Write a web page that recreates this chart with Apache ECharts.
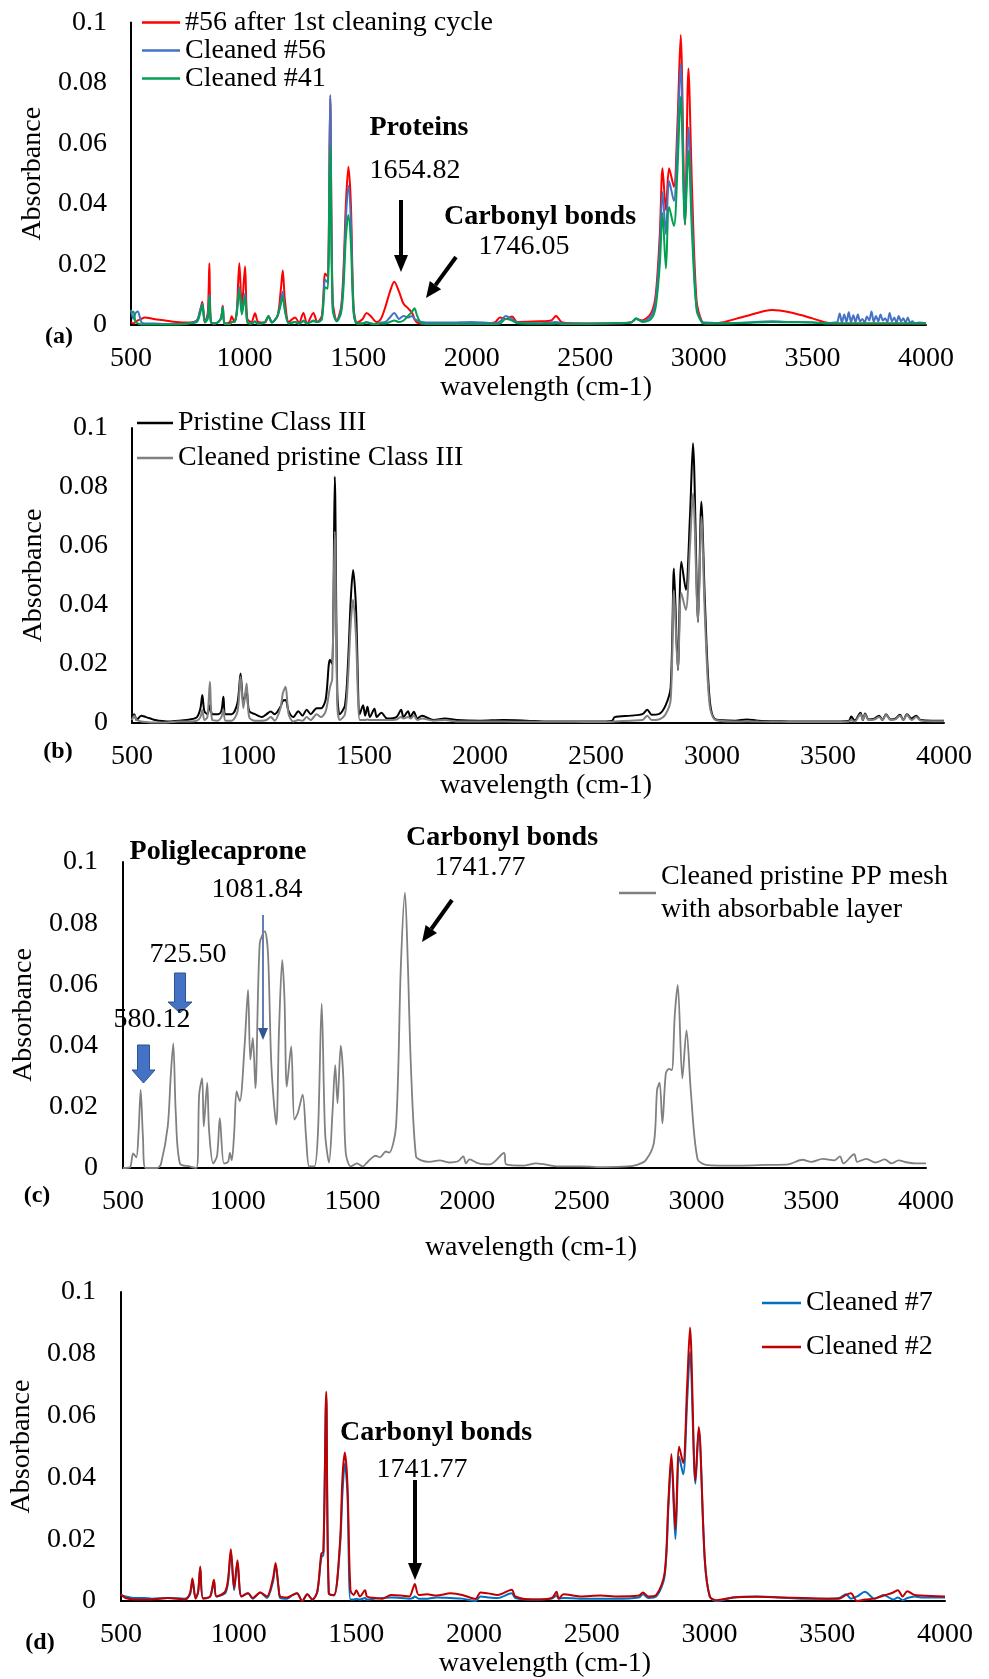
<!DOCTYPE html>
<html>
<head>
<meta charset="utf-8">
<title>FTIR spectra</title>
<script src="https://cdn.jsdelivr.net/npm/echarts@6/dist/echarts.min.js"></script>
<style>
  html, body { margin: 0; padding: 0; background: #fff; }
  #chart { width: 989px; height: 1679px; }
</style>
</head>
<body>
<div id="chart"></div>
<script>
// axis ranges / titles
const xMin = 500, xMax = 4000, xStep = 500;
const yMin = 0, yMax = 0.1, yStep = 0.02;
const xTitle = 'wavelength (cm-1)';
const yTitle = 'Absorbance';

// ---- (a) ----
const waveA = [
  500, 510, 520, 530, 545, 560, 600, 650, 700, 750,
  790, 805, 814, 825, 838, 845, 852, 870, 895, 904,
  912, 935, 943, 955, 965, 977, 988, 1002, 1012, 1030,
  1046, 1060, 1090, 1105, 1120, 1145, 1160, 1168, 1178, 1195,
  1222, 1240, 1259, 1275, 1303, 1320, 1340, 1355, 1366, 1377,
  1388, 1406, 1425, 1436, 1446, 1457, 1468, 1480, 1495, 1520,
  1537, 1555, 1581, 1600, 1620, 1640, 1659, 1680, 1700, 1720,
  1738, 1748, 1760, 1780, 1820, 1900, 2000, 2100, 2125, 2150,
  2178, 2200, 2300, 2350, 2371, 2400, 2500, 2600, 2700, 2724,
  2750, 2790, 2810, 2828, 2840, 2855, 2869, 2890, 2905, 2920,
  2939, 2954, 2970, 2990, 3014, 3030, 3100, 3200, 3324, 3400,
  3500, 3560, 3600,
  3610, 3620, 3630, 3640, 3650, 3660, 3670, 3680, 3690, 3700,
  3710, 3720, 3730, 3740, 3750, 3760, 3770, 3780, 3790, 3800,
  3810, 3820, 3830, 3840, 3850, 3860, 3870, 3880, 3890, 3900,
  3910, 3920, 3930, 3940, 3950,
  3970, 4000
];
const after1stCycle56 = [
  0.001, 0.0005, 0.001, 0.0015, 0.002, 0.0025, 0.002, 0.0015, 0.001, 0.0008,
  0.0015, 0.005, 0.0077, 0.001, 0.004, 0.0204, 0.001, 0.0005, 0.002, 0.0064,
  0.0005, 0.001, 0.0029, 0.001, 0.004, 0.0204, 0.006, 0.0193, 0.002, 0.001,
  0.0039, 0.001, 0.0008, 0.003, 0.001, 0.003, 0.012, 0.018, 0.008, 0.001,
  0.0025, 0.0008, 0.004, 0.0005, 0.004, 0.001, 0.003, 0.017, 0.016, 0.075,
  0.008, 0.0015, 0.006, 0.019, 0.040, 0.0523, 0.040, 0.006, 0.0008, 0.002,
  0.004, 0.003, 0.001, 0.002, 0.006, 0.011, 0.0143, 0.011, 0.007, 0.0055,
  0.004, 0.002, 0.0008, 0.0005, 0.0005, 0.0005, 0.0003, 0.0008, 0.0025, 0.002,
  0.0028, 0.001, 0.0012, 0.0015, 0.003, 0.0008, 0.0005, 0.0005, 0.0008, 0.002,
  0.0015, 0.004, 0.010, 0.030, 0.0518, 0.038, 0.0518, 0.0457, 0.065, 0.0959,
  0.0332, 0.0848, 0.045, 0.008, 0.001, 0.0005, 0.0008, 0.0028, 0.0050, 0.0042,
  0.0022, 0.0008, 0.0005,
  0.0005, 0.0005, 0.0005, 0.0005, 0.0005, 0.0005, 0.0005, 0.0005, 0.0005, 0.0005,
  0.0005, 0.0005, 0.0005, 0.0005, 0.0005, 0.0005, 0.0005, 0.0005, 0.0005, 0.0005,
  0.0005, 0.0005, 0.0005, 0.0005, 0.0005, 0.0005, 0.0005, 0.0005, 0.0005, 0.0005,
  0.0005, 0.0005, 0.0005, 0.0005, 0.0005,
  0.0005, 0.0005
];
const cleaned56 = [
  0.005, 0.002, 0.004, 0.0045, 0.001, 0.0005, 0.0005, 0.0003, 0.0003, 0.0005,
  0.0015, 0.005, 0.007, 0.001, 0.003, 0.010, 0.001, 0.0005, 0.002, 0.006,
  0.0005, 0.0003, 0.001, 0.001, 0.004, 0.0126, 0.004, 0.0105, 0.001, 0.0005,
  0.0012, 0.0004, 0.001, 0.0028, 0.0008, 0.003, 0.008, 0.011, 0.005, 0.0005,
  0.001, 0.0005, 0.0015, 0.0005, 0.0015, 0.001, 0.002, 0.015, 0.014, 0.076,
  0.006, 0.0012, 0.005, 0.016, 0.035, 0.046, 0.034, 0.005, 0.0005, 0.0005,
  0.001, 0.0005, 0.0003, 0.0008, 0.001, 0.0025, 0.004, 0.002, 0.003, 0.0025,
  0.003, 0.002, 0.0015, 0.001, 0.0008, 0.0008, 0.001, 0.0006, 0.0012, 0.003,
  0.002, 0.0008, 0.0006, 0.0008, 0.001, 0.0006, 0.0005, 0.0005, 0.0008, 0.002,
  0.0012, 0.003, 0.008, 0.026, 0.044, 0.030, 0.0476, 0.041, 0.060, 0.0865,
  0.034, 0.0653, 0.035, 0.006, 0.001, 0.0008, 0.0006, 0.0008, 0.0012, 0.001,
  0.0009, 0.0006, 0.0008,
  0.001, 0.0038, 0.0008, 0.0035, 0.001, 0.0042, 0.0009, 0.0032, 0.001, 0.0035,
  0.0012, 0.002, 0.0008, 0.0028, 0.0015, 0.0045, 0.001, 0.003, 0.0012, 0.0035,
  0.0015, 0.0022, 0.001, 0.004, 0.0012, 0.0025, 0.0008, 0.003, 0.0012, 0.0022,
  0.0008, 0.0025, 0.0008, 0.0012, 0.0006,
  0.0008, 0.0006
];
const cleaned41 = [
  0.004, 0.0045, 0.001, 0.0005, 0.0002, 0.0002, 0.0002, 0.0002, 0.0002, 0.0005,
  0.001, 0.004, 0.0066, 0.0008, 0.002, 0.0094, 0.001, 0.0005, 0.002, 0.0056,
  0.0005, 0.0003, 0.001, 0.001, 0.0035, 0.0116, 0.0035, 0.0094, 0.001, 0.0005,
  0.001, 0.0004, 0.001, 0.003, 0.0008, 0.003, 0.007, 0.0094, 0.0045, 0.0005,
  0.001, 0.0005, 0.0012, 0.0005, 0.0012, 0.001, 0.002, 0.0125, 0.012, 0.059,
  0.005, 0.0012, 0.004, 0.013, 0.029, 0.0364, 0.027, 0.004, 0.0005, 0.0005,
  0.0008, 0.0005, 0.0003, 0.0005, 0.0005, 0.001, 0.0015, 0.001, 0.0015, 0.003,
  0.0045, 0.0055, 0.003, 0.0005, 0.0003, 0.0003, 0.0003, 0.0003, 0.0005, 0.002,
  0.0015, 0.0006, 0.0004, 0.0004, 0.0005, 0.0003, 0.0003, 0.0006, 0.0008, 0.0022,
  0.001, 0.002, 0.006, 0.020, 0.037, 0.0187, 0.039, 0.0327, 0.050, 0.0755,
  0.0332, 0.0576, 0.030, 0.005, 0.0008, 0.0005, 0.0005, 0.0007, 0.001, 0.0009,
  0.0008, 0.0005, 0.0005,
  0.0005, 0.0005, 0.0005, 0.0005, 0.0005, 0.0005, 0.0005, 0.0005, 0.0005, 0.0005,
  0.0005, 0.0005, 0.0005, 0.0005, 0.0005, 0.0005, 0.0005, 0.0005, 0.0005, 0.0005,
  0.0005, 0.0005, 0.0005, 0.0005, 0.0005, 0.0005, 0.0005, 0.0005, 0.0005, 0.0005,
  0.0005, 0.0005, 0.0005, 0.0005, 0.0005,
  0.0005, 0.0005
];

// ---- (b) ----
const waveB = [
  500, 510, 520, 540, 560, 580, 600, 650, 700, 750,
  780, 795, 803, 812, 825, 836, 846, 870, 885, 894,
  903, 930, 955, 968, 980, 994, 1005, 1030, 1060, 1080,
  1098, 1115, 1140, 1150, 1162, 1175, 1195, 1217, 1235, 1253,
  1270, 1296, 1315, 1335, 1353, 1363, 1374, 1385, 1396, 1418,
  1431, 1443, 1453, 1465, 1482, 1496, 1505, 1515, 1525, 1545,
  1555, 1575, 1600, 1640, 1660, 1670, 1690, 1700, 1715, 1730,
  1750, 1800, 1850, 1900, 2000, 2100, 2200, 2300, 2400, 2500,
  2570, 2580, 2650, 2700, 2721, 2740, 2770, 2800, 2822, 2836,
  2853, 2868, 2887, 2905, 2918, 2940, 2954, 2970, 2990, 3016,
  3100, 3150, 3200, 3300, 3400, 3500, 3590, 3600, 3615, 3640,
  3650, 3660, 3675, 3700, 3720, 3735, 3750, 3770, 3790, 3810,
  3825, 3840, 3860, 3880, 3900, 3950, 4000
];
const pristineClassIII = [
  0.002, 0.003, 0.001, 0.0025, 0.002, 0.0015, 0.001, 0.0005, 0.0008, 0.0012,
  0.002, 0.005, 0.0095, 0.004, 0.003, 0.006, 0.003, 0.003, 0.004, 0.0089,
  0.003, 0.003, 0.007, 0.0168, 0.007, 0.011, 0.004, 0.003, 0.002, 0.003,
  0.0039, 0.003, 0.0055, 0.0075, 0.0078, 0.004, 0.002, 0.004, 0.0025, 0.0045,
  0.003, 0.005, 0.005, 0.008, 0.0214, 0.020, 0.0835, 0.010, 0.003, 0.006,
  0.0202, 0.042, 0.0519, 0.040, 0.003, 0.006, 0.0025, 0.0055, 0.002, 0.0048,
  0.002, 0.0035, 0.0015, 0.002, 0.0045, 0.002, 0.004, 0.002, 0.0038, 0.0015,
  0.0025, 0.001, 0.0015, 0.001, 0.0008, 0.001, 0.0008, 0.0005, 0.0005, 0.0005,
  0.0008, 0.002, 0.0025, 0.003, 0.0045, 0.0028, 0.003, 0.006, 0.0123, 0.0524,
  0.018, 0.0547, 0.0452, 0.070, 0.0948, 0.0343, 0.075, 0.040, 0.008, 0.0012,
  0.0008, 0.0012, 0.0008, 0.0006, 0.0005, 0.0005, 0.0008, 0.0022, 0.0008, 0.0035,
  0.001, 0.0032, 0.0012, 0.0015, 0.0025, 0.001, 0.003, 0.0012, 0.0015, 0.0028,
  0.001, 0.003, 0.0015, 0.0025, 0.001, 0.0008, 0.0008
];
const cleanedPristineClassIII = [
  0.001, 0.0025, 0.001, 0.0005, 0.0003, 0.0002, 0.0002, 0.0002, 0.0005, 0.0005,
  0.0008, 0.002, 0.0044, 0.001, 0.002, 0.014, 0.001, 0.0008, 0.002, 0.0044,
  0.0008, 0.0008, 0.004, 0.0157, 0.005, 0.0134, 0.002, 0.0008, 0.0008, 0.001,
  0.002, 0.0008, 0.005, 0.010, 0.0123, 0.003, 0.0005, 0.001, 0.0008, 0.002,
  0.001, 0.003, 0.002, 0.004, 0.012, 0.015, 0.0649, 0.006, 0.001, 0.003,
  0.015, 0.034, 0.0418, 0.030, 0.001, 0.001, 0.001, 0.0012, 0.001, 0.001,
  0.001, 0.001, 0.001, 0.0012, 0.002, 0.0015, 0.002, 0.0015, 0.0025, 0.001,
  0.0015, 0.0008, 0.001, 0.0005, 0.0005, 0.0005, 0.0004, 0.0004, 0.0004, 0.0003,
  0.0004, 0.0005, 0.0008, 0.001, 0.0025, 0.001, 0.0012, 0.003, 0.008, 0.045,
  0.018, 0.044, 0.0383, 0.060, 0.0779, 0.0343, 0.070, 0.035, 0.006, 0.001,
  0.0005, 0.0006, 0.0005, 0.0004, 0.0003, 0.0003, 0.0005, 0.001, 0.0005, 0.003,
  0.001, 0.003, 0.001, 0.0012, 0.002, 0.001, 0.0028, 0.001, 0.0012, 0.0025,
  0.001, 0.0028, 0.001, 0.002, 0.0008, 0.0006, 0.0006
];

// ---- (c) ----
const waveC = [
  500, 530, 544, 558, 568, 577, 587, 598, 650, 666,
  695, 708, 719, 730, 748, 790, 820, 832, 845, 852,
  867, 875, 893, 910, 922, 940, 958, 966, 974, 985,
  995, 1009, 1030, 1045, 1055, 1066, 1077, 1096, 1118, 1132,
  1147, 1168, 1180, 1194, 1204, 1214, 1233, 1247, 1262, 1283,
  1298, 1312, 1334, 1350, 1366, 1381, 1398, 1413, 1425, 1435,
  1449, 1460, 1471, 1493, 1520, 1545, 1560, 1580, 1600, 1620,
  1646, 1660, 1690, 1711, 1729, 1741, 1755, 1777, 1800, 1835,
  1880, 1920, 1960, 1983, 1995, 2010, 2050, 2100, 2161, 2170,
  2250, 2300, 2400, 2500, 2600, 2700, 2740, 2778, 2814, 2828,
  2839, 2851, 2866, 2880, 2892, 2905, 2918, 2938, 2956, 2975,
  3004, 3041, 3100, 3200, 3300, 3400, 3462, 3500, 3550, 3600,
  3625, 3640, 3687, 3700, 3740, 3780, 3820, 3850, 3880, 3920,
  3960, 4000
];
const cleanedPPMesh = [
  0, 0.0002, 0.0048, 0.0035, 0.012, 0.0255, 0.010, 0, 0, 0.0015,
  0.0136, 0.030, 0.0407, 0.018, 0.0015, 0.0005, 0, 0.024, 0.0294, 0.0136,
  0.0278, 0.0125, 0.0015, 0.004, 0.0163, 0.0015, 0.002, 0.0049, 0.0025, 0.012,
  0.025, 0.0218, 0.040, 0.0582, 0.0354, 0.0425, 0.0261, 0.0734, 0.0773, 0.070,
  0.0331, 0.0142, 0.045, 0.068, 0.055, 0.0266, 0.0397, 0.0158, 0.018, 0.024,
  0.010, 0.0005, 0.0005, 0.012, 0.0537, 0.0114, 0.0018, 0.018, 0.0336, 0.0212,
  0.040, 0.030, 0.0049, 0.0005, 0.0015, 0.0005, 0.0015, 0.003, 0.004, 0.0035,
  0.0054, 0.005, 0.0136, 0.0659, 0.090, 0.068, 0.033, 0.0038, 0.0025, 0.002,
  0.0025, 0.0018, 0.0022, 0.0038, 0.0015, 0.0028, 0.0015, 0.0012, 0.0049, 0.0012,
  0.0008, 0.0015, 0.0005, 0.0005, 0.0003, 0.0005, 0.001, 0.0025, 0.0082, 0.0256,
  0.0279, 0.0146, 0.0309, 0.0324, 0.032, 0.050, 0.0598, 0.0293, 0.045, 0.025,
  0.003, 0.001, 0.0008, 0.0008, 0.001, 0.0012, 0.0027, 0.002, 0.003, 0.0025,
  0.0038, 0.0015, 0.0045, 0.002, 0.003, 0.0018, 0.0028, 0.0015, 0.0025, 0.0018,
  0.0015, 0.0015
];

// ---- (d) ----
const waveD = [
  500, 520, 560, 600, 631, 700, 772, 793, 804, 817,
  828, 837, 849, 879, 895, 906, 942, 955, 967, 981,
  995, 1012, 1040, 1060, 1092, 1120, 1145, 1157, 1170, 1177,
  1206, 1230, 1248, 1270, 1292, 1313, 1334, 1351, 1360, 1372,
  1383, 1405, 1430, 1441, 1451, 1462, 1475, 1489, 1500, 1515,
  1537, 1545, 1580, 1612, 1647, 1690, 1725, 1740, 1748, 1765,
  1801, 1840, 1900, 1950, 2006, 2027, 2060, 2100, 2160, 2175,
  2250, 2330, 2350, 2360, 2380, 2450, 2537, 2600, 2700, 2717,
  2740, 2774, 2809, 2825, 2838, 2855, 2871, 2888, 2905, 2917,
  2940, 2954, 2980, 3001, 3030, 3100, 3200, 3300, 3400, 3500,
  3550, 3580, 3600, 3627, 3660, 3700, 3740, 3780, 3800, 3820,
  3840, 3870, 3900, 4000
];
const cleaned7 = [
  0.002, 0.0015, 0.001, 0.001, 0.0008, 0.001, 0.0008, 0.002, 0.0065, 0.001,
  0.003, 0.0105, 0.001, 0.0015, 0.0065, 0.0015, 0.0025, 0.006, 0.0158, 0.0035,
  0.0125, 0.0015, 0.0025, 0.0008, 0.0028, 0.001, 0.006, 0.0115, 0.004, 0.001,
  0.0008, 0.002, 0.0025, 0, 0.0022, 0.0005, 0.003, 0.014, 0.015, 0.066,
  0.0025, 0.0018, 0.017, 0.035, 0.0445, 0.035, 0.0005, 0.0005, 0.0008, 0.0005,
  0.001, 0.0005, 0.0008, 0.001, 0.0012, 0.001, 0.0008, 0.001, 0.0015, 0.0008,
  0.0008, 0.0012, 0.001, 0.0008, 0, 0.0015, 0.0012, 0.001, 0.0025, 0.001,
  0.0005, 0.0008, 0.0018, 0.0008, 0.001, 0.0008, 0.0008, 0.0008, 0.0012, 0.0022,
  0.001, 0.0015, 0.008, 0.030, 0.046, 0.0201, 0.0467, 0.041, 0.065, 0.0806,
  0.038, 0.0555, 0.013, 0.0015, 0, 0.0012, 0.0015, 0.0012, 0.0008, 0.0008,
  0.001, 0.0022, 0.0008, 0.0015, 0.003, 0.0008, 0.002, 0.0005, 0.0012, 0.0003,
  0.001, 0.0015, 0.0012, 0.0012
];
const cleaned2 = [
  0.0021, 0.001, 0.0005, 0.0005, 0.0005, 0.001, 0.0005, 0.0025, 0.0073, 0.0008,
  0.003, 0.0112, 0.0008, 0.0015, 0.0069, 0.0015, 0.003, 0.007, 0.0168, 0.0042,
  0.0132, 0.0015, 0.0025, 0.001, 0.0028, 0.0015, 0.007, 0.0123, 0.004, 0.0015,
  0.0012, 0.002, 0.0025, 0, 0.0022, 0.0005, 0.003, 0.0153, 0.016, 0.0677,
  0.0025, 0.002, 0.0184, 0.040, 0.0481, 0.038, 0.0035, 0.002, 0.0035, 0.0015,
  0.0035, 0.0015, 0.001, 0.0008, 0.002, 0.0018, 0.0015, 0.004, 0.0055, 0.002,
  0.0022, 0.0018, 0.0025, 0.002, 0.0007, 0.0028, 0.0025, 0.002, 0.0037, 0.0015,
  0.0005, 0.001, 0.003, 0.0008, 0.0022, 0.0015, 0.0018, 0.0015, 0.0018, 0.0028,
  0.0015, 0.002, 0.009, 0.032, 0.0476, 0.0232, 0.0499, 0.0447, 0.070, 0.0885,
  0.0389, 0.0563, 0.0133, 0.0015, 0.0003, 0.0012, 0.0014, 0.0012, 0.001, 0.0008,
  0.0008, 0.002, 0.0025, 0, 0.0005, 0.0008, 0.0018, 0.0028, 0.0035, 0.0015,
  0.0032, 0.002, 0.0018, 0.0015
];

const FONT = "'Liberation Serif', 'Times New Roman', serif";
const FS = 28;
const chart = echarts.init(document.getElementById('chart'), null, { renderer: 'canvas' });

const pairs = (xs, ys) => xs.map((x, i) => [x, ys[i]]);

function xAxisFor(gridIndex, nameGap, namePad) {
  return {
    type: 'value', gridIndex: gridIndex,
    min: xMin, max: xMax, interval: xStep,
    name: xTitle, nameLocation: 'middle', nameGap: nameGap,
    nameTextStyle: { fontSize: FS, color: '#000', padding: [0, 0, 0, namePad] },
    axisLine: { onZero: false, lineStyle: { color: '#000', width: 2 } },
    axisTick: { show: false },
    splitLine: { show: false },
    axisLabel: { fontSize: FS, color: '#000', margin: 20, showMinLabel: true, showMaxLabel: true,
      formatter: v => String(v) }
  };
}

function yAxisFor(gridIndex, nameGap, labelMargin) {
  return {
    type: 'value', gridIndex: gridIndex,
    min: yMin, max: yMax, interval: yStep,
    name: yTitle, nameLocation: 'middle', nameRotate: 90, nameGap: nameGap,
    nameTextStyle: { fontSize: FS, color: '#000' },
    axisLine: { show: true, lineStyle: { color: '#000', width: 2 } },
    axisTick: { show: false },
    splitLine: { show: false },
    axisLabel: { fontSize: FS, color: '#000', margin: labelMargin,
      formatter: v => v === 0 ? '0' : String(+v.toFixed(2)) }
  };
}

function line(name, xi, data, color, width) {
  return {
    type: 'line', name: name, xAxisIndex: xi, yAxisIndex: xi,
    data: data, symbol: 'none', clip: true, smooth: 0.3,
    lineStyle: { color: color, width: width },
    itemStyle: { color: color }
  };
}

function legendFor(names, left, top, gap, extra) {
  return Object.assign({
    data: names, left: left, top: top, orient: 'vertical',
    itemWidth: 38, itemHeight: 2.5, itemGap: gap, icon: 'rect',
    padding: 0, selectedMode: false,
    textStyle: { fontSize: FS, lineHeight: 28, color: '#000', fontFamily: FONT }
  }, extra || {});
}

// annotation helpers (pixel space)
function arrow(x1, y1, x2, y2, w, head, headW, color) {
  const ang = Math.atan2(y2 - y1, x2 - x1);
  const bx = x2 - head * Math.cos(ang), by = y2 - head * Math.sin(ang);
  const px = -Math.sin(ang) * headW / 2, py = Math.cos(ang) * headW / 2;
  return [
    { type: 'line', shape: { x1: x1, y1: y1, x2: bx, y2: by }, style: { stroke: color, lineWidth: w } },
    { type: 'polygon', shape: { points: [[x2, y2], [bx + px, by + py], [bx - px, by - py]] }, style: { fill: color } }
  ];
}
function blockArrow(cx, top, bottom, shaftW, headW, headH) {
  const s = shaftW / 2, h = headW / 2, hy = bottom - headH;
  return {
    type: 'polygon',
    shape: { points: [[cx - s, top], [cx + s, top], [cx + s, hy], [cx + h, hy], [cx, bottom], [cx - h, hy], [cx - s, hy]] },
    style: { fill: '#4472C4', stroke: '#2F528F', lineWidth: 1 }
  };
}
function label(text, x, y, bold, size) {
  return {
    type: 'text', x: x, y: y, z: 10,
    style: {
      text: text, font: (bold ? 'bold ' : '') + (size || FS) + 'px ' + FONT,
      fill: '#000', align: 'center', verticalAlign: 'middle',
      textAlign: 'center', textVerticalAlign: 'middle'
    }
  };
}

const graphics = [].concat(
  // (a)
  label('Proteins', 419, 128, true),
  label('1654.82', 415, 171),
  label('Carbonyl bonds', 540, 217, true),
  label('1746.05', 524, 247),
  arrow(401, 200, 401, 272, 4, 17, 14, '#000'),
  arrow(456, 257, 426, 298, 4, 16, 14, '#000'),
  label('(a)', 59, 337, true, 24),
  // (b)
  label('(b)', 58, 752, true, 24),
  // (c)
  label('Poliglecaprone', 218, 852, true),
  label('1081.84', 257, 890),
  label('725.50', 188, 955),
  label('580.12', 152, 1020),
  label('Carbonyl bonds', 502, 838, true),
  label('1741.77', 480, 868),
  arrow(263, 915, 263, 1040, 1.5, 12, 10, '#2F5597'),
  blockArrow(180, 973, 1013, 11, 24, 11),
  blockArrow(143.5, 1045, 1083, 12, 23, 13),
  arrow(452, 900, 422, 942, 4, 16, 14, '#000'),
  label('(c)', 37, 1196, true, 24),
  // (d)
  label('Carbonyl bonds', 436, 1433, true),
  label('1741.77', 422, 1470),
  arrow(415, 1480, 415, 1580, 4, 17, 14, '#000'),
  label('(d)', 40, 1643, true, 24)
);

const option = {
  animation: false,
  backgroundColor: '#fff',
  textStyle: { fontFamily: FONT, color: '#000' },
  grid: [
    { left: 131, top: 22.5, width: 795, height: 302.5 },
    { left: 132, top: 428, width: 812, height: 295 },
    { left: 123, top: 862, width: 803, height: 306 },
    { left: 119, top: 1292, width: 826, height: 316 }
  ],
  xAxis: [
    xAxisFor(0, 49, 35),
    xAxisFor(1, 48, 16),
    xAxisFor(2, 66, 13),
    xAxisFor(3, 43, 24)
  ],
  yAxis: [
    yAxisFor(0, 81, 24),
    yAxisFor(1, 82, 24),
    yAxisFor(2, 82, 25),
    yAxisFor(3, 83, 25)
  ],
  legend: [
    legendFor(['#56 after 1st cleaning cycle', 'Cleaned #56', 'Cleaned #41'], 142, 8.5, 0,
      { textStyle: { fontSize: FS, lineHeight: 27.5, color: '#000', fontFamily: FONT } }),
    legendFor(['Pristine Class III', 'Cleaned pristine Class III'], 137, 409, 7, { itemWidth: 36 }),
    legendFor(['Cleaned pristine PP mesh with absorbable layer'], 619, 843.5, 0, {
      itemWidth: 37,
      formatter: () => 'Cleaned pristine PP mesh\nwith absorbable layer',
      textStyle: { fontSize: FS, lineHeight: 33, padding: [33, 0, 0, 0], color: '#000', fontFamily: FONT }
    }),
    legendFor(['Cleaned #7', 'Cleaned #2'], 762, 1289, 16, { itemWidth: 39 })
  ],
  series: [
    line('#56 after 1st cleaning cycle', 0, pairs(waveA, after1stCycle56), '#FF0000', 2),
    line('Cleaned #56', 0, pairs(waveA, cleaned56), '#4472C4', 2),
    line('Cleaned #41', 0, pairs(waveA, cleaned41), '#00A050', 2),
    line('Pristine Class III', 1, pairs(waveB, pristineClassIII), '#000000', 2),
    line('Cleaned pristine Class III', 1, pairs(waveB, cleanedPristineClassIII), '#808080', 2),
    line('Cleaned pristine PP mesh with absorbable layer', 2, pairs(waveC, cleanedPPMesh), '#808080', 1.8),
    line('Cleaned #7', 3, pairs(waveD, cleaned7), '#0070C0', 2),
    line('Cleaned #2', 3, pairs(waveD, cleaned2), '#C00000', 2)
  ],
  graphic: graphics
};

chart.setOption(option);
</script>
</body>
</html>
